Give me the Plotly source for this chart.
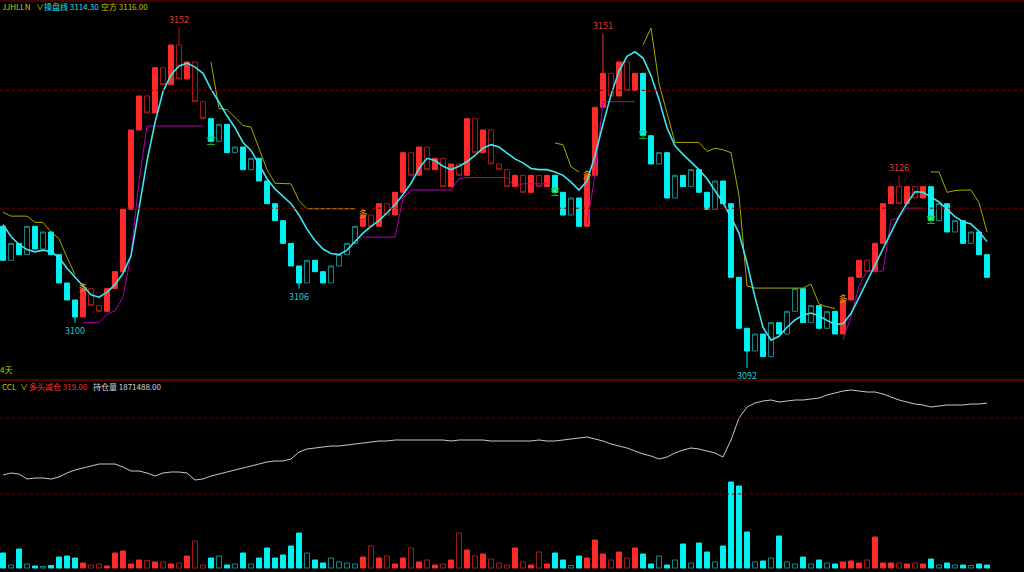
import plotly.graph_objects as go

W, H = 1024, 572

# ---------------- data ----------------
first_open = 3117.0
closes = [3111, 3114, 3112, 3117, 3113, 3116, 3112, 3107, 3104, 3101,
          3106, 3103, 3102, 3106, 3109, 3120, 3134, 3140, 3137, 3145,
          3142, 3149, 3143, 3146, 3139, 3136, 3132, 3135, 3130, 3131,
          3127, 3129, 3125, 3121, 3118, 3114, 3110, 3107, 3111, 3109,
          3107, 3110, 3112, 3114, 3117, 3119, 3117, 3121, 3119, 3123,
          3130, 3126, 3131, 3127, 3129, 3124, 3128, 3126, 3136, 3130,
          3134, 3128, 3127, 3124, 3126, 3123, 3126, 3124, 3126, 3123,
          3119, 3122, 3117, 3126, 3138, 3144, 3140, 3146, 3141, 3144,
          3133, 3128, 3130, 3122, 3126, 3124, 3127, 3123, 3120, 3125,
          3121, 3108, 3099, 3095, 3098, 3094, 3100, 3098, 3102, 3106,
          3100, 3103, 3099, 3102, 3098, 3104, 3108, 3111, 3109, 3114,
          3121, 3124, 3121, 3124, 3122, 3124, 3118, 3121, 3116, 3118,
          3114, 3116, 3112, 3108]

ma_line = [3117.3, 3115.2, 3113.8, 3112.9, 3112.5, 3112.8, 3112.5, 3111.5, 3109.6, 3108.0,
           3106.4, 3104.9, 3104.5, 3105.4, 3106.7, 3108.7, 3111.8, 3120.3, 3128.5, 3135.3,
           3140.8, 3143.7, 3145.3, 3145.8, 3145.1, 3144.0, 3141.2, 3138.9, 3136.5, 3134.4,
           3131.8, 3130.4, 3128.0, 3125.4, 3123.6, 3122.3, 3121.0, 3119.0, 3116.5, 3114.5,
           3113.0, 3112.2, 3112.0, 3112.8, 3114.3, 3115.8, 3117.0, 3118.0, 3119.4, 3120.8,
           3122.6, 3124.6, 3127.2, 3129.0, 3128.6, 3127.6, 3127.0, 3127.6, 3128.4, 3129.5,
           3130.8, 3131.4, 3131.0, 3130.0, 3128.9, 3128.2, 3127.2, 3127.0, 3127.0, 3126.6,
           3126.0, 3124.8, 3123.4, 3125.0, 3129.5, 3135.0, 3140.2, 3144.4, 3147.0, 3147.8,
           3146.7, 3143.6, 3139.4, 3134.4, 3131.2, 3129.7, 3128.4, 3127.0, 3125.4, 3123.4,
           3121.2, 3118.6, 3115.8, 3110.5, 3104.5, 3099.2, 3096.9, 3097.6, 3099.2, 3100.5,
           3101.3, 3101.7, 3101.2, 3100.4, 3099.7, 3099.8, 3101.6, 3104.4, 3107.3, 3110.4,
           3113.2, 3115.9, 3118.7, 3121.1, 3123.1, 3123.0, 3122.2, 3121.3, 3120.0, 3118.7,
           3117.8, 3117.4, 3116.1, 3114.3]

short_stop = [3119.5, 3118.8, 3118.8, 3118.8, 3117.7, 3117.7, 3116.0, 3114.8, 3111.5, 3108.5,
              None, None, None, None, None, None, None, None, None, None,
              None, None, None, None, None, None, 3146.0, 3137.8, 3137.6, 3136.2,
              3134.8, 3134.5, 3130.7, 3127.0, 3124.6, 3124.6, 3124.5, 3121.5, 3120.1, 3120.1,
              3120.1, 3120.1, 3120.1, 3120.1, 3120.1, None, None, None, None, None,
              None, None, None, None, None, None, None, None, None, None,
              None, None, None, None, None, None, None, None, None, 3131.7,
              3131.4, 3127.5, 3126.6, None, None, None, None, None, None, None,
              3149.0, 3152.0, 3142.2, 3137.2, 3131.8, 3131.8, 3131.8, 3131.8, 3130.2, 3130.8,
              3130.5, 3130.0, 3122.4, 3106.5, 3106.1, 3106.1, 3106.1, 3106.1, 3106.1, 3106.1,
              3106.1, 3106.8, 3103.3, 3102.8, 3102.5, None, None, None, None, None,
              None, None, None, None, None, None, 3126.6, 3126.6, 3123.0, 3123.3,
              3123.4, 3123.4, 3121.2, 3116.0]

long_stop = [None, None, None, None, None, None, None, None, None, None,
             3100.0, 3100.0, 3100.0, 3101.5, 3102.1, 3104.5, 3112.0, 3125.0, 3134.7, 3134.7,
             3134.7, 3134.7, 3134.7, 3134.7, 3134.7, 3134.7, None, None, None, None,
             None, None, None, None, None, None, None, None, None, None,
             None, None, None, None, None, 3115.1, 3115.1, 3115.1, 3115.1, 3115.1,
             3122.0, 3123.4, 3123.4, 3123.4, 3123.4, 3123.4, 3123.4, 3125.4, 3125.6, 3125.6,
             3125.6, 3125.6, 3125.6, 3125.6, 3124.0, 3124.5, 3124.5, 3124.5, 3124.5, None,
             None, None, None, 3117.5, 3126.0, 3139.0, 3139.0, 3139.0, 3139.0, 3139.0,
             None, None, None, None, None, None, None, None, None, None,
             None, None, None, None, None, None, None, None, None, None,
             None, None, None, None, None, 3097.0, 3101.0, 3106.5, 3109.1, 3109.1,
             3109.1, 3118.1, 3118.5, 3120.2, 3120.2, 3120.2, None, None, None, None,
             None, None, None, None]

volume = [3000, 600, 3800, 800, 400, 300, 500, 2200, 2400, 2000,
          1000, 600, 800, 400, 3000, 3400, 800, 1600, 1500, 1200,
          1200, 800, 1000, 2400, 5400, 600, 2000, 2400, 600, 800,
          3000, 800, 2000, 4000, 2000, 2600, 4400, 7000, 3000, 1600,
          1000, 2000, 1200, 1000, 800, 2200, 4400, 2000, 2400, 800,
          2000, 4000, 1200, 1600, 600, 800, 1600, 7000, 3600, 2400,
          2800, 1800, 1000, 600, 4000, 1200, 600, 3200, 800, 3000,
          1600, 500, 2400, 2000, 5600, 2800, 1600, 3200, 2000, 4000,
          2800, 800, 2400, 600, 1600, 4800, 1000, 5000, 3200, 1200,
          4400, 17200, 16400, 7200, 1200, 1400, 2000, 6400, 1200, 800,
          2200, 800, 1600, 1000, 800, 1200, 1400, 1000, 1600, 6200,
          1000, 1000, 1000, 800, 1000, 800, 1800, 600, 1000, 600,
          600, 500, 800, 600]

open_interest = [1835500, 1836500, 1836000, 1833500, 1834000, 1834000, 1833500, 1834500, 1836500, 1838000,
                 1839000, 1840000, 1841000, 1841000, 1841000, 1839500, 1837500, 1837500, 1836500, 1835000,
                 1836500, 1837000, 1837000, 1836500, 1833000, 1833500, 1835000, 1836000, 1837000, 1838000,
                 1839000, 1840000, 1841000, 1842000, 1842500, 1842500, 1843500, 1847000, 1848500, 1849000,
                 1849500, 1850000, 1850000, 1850500, 1851000, 1851500, 1852000, 1852500, 1852500, 1853000,
                 1853000, 1853000, 1853000, 1853000, 1853000, 1853000, 1852500, 1853000, 1853000, 1853000,
                 1853000, 1852500, 1852500, 1852500, 1852500, 1852500, 1852500, 1853000, 1852500, 1852500,
                 1853000, 1853500, 1854000, 1854500, 1853500, 1852500, 1851000, 1850000, 1849000, 1847500,
                 1846000, 1845000, 1843500, 1844500, 1846500, 1848000, 1849000, 1848500, 1847500, 1846500,
                 1844500, 1853000, 1864000, 1869500, 1871500, 1872500, 1873000, 1872000, 1872500, 1873000,
                 1873000, 1873500, 1874000, 1875500, 1876500, 1877500, 1878000, 1877500, 1877000, 1877000,
                 1876000, 1874500, 1873000, 1872000, 1871000, 1870500, 1869500, 1870000, 1870500, 1870500,
                 1870500, 1871000, 1871000, 1871488]

long_signals = [10, 45, 73, 105]
short_signals = [26, 69, 80, 116]
high_marks = {22: 3152, 75: 3151, 112: 3126}
low_marks = {9: 3100, 37: 3106, 93: 3092}
grid_prices = [3141.0, 3120.2]
grid_volumes = [30000, 14800]

header_name = "JJHLLN"
ma_name, ma_last = "操盘线", 3114.30
stop_name, stop_last = "空方", 3116.00
sub_name = "CCL"
sub_label1, sub_value1 = "多头减仓", 319.00
sub_label2, sub_value2 = "持仓量", 1871488.00
period_label = "4天"

# ---------------- derived ----------------
n = len(closes)
xs = list(range(n))
opens = [first_open] + closes[:-1]
highs = [max(o, c) for o, c in zip(opens, closes)]
lows = [min(o, c) for o, c in zip(opens, closes)]
for k, v in high_marks.items():
    highs[k] = v
for k, v in low_marks.items():
    lows[k] = v

events = sorted([(i, 1) for i in long_signals] + [(i, -1) for i in short_signals])
trend, state, ei = [], -1, 0
for i in range(n):
    while ei < len(events) and events[ei][0] == i:
        state = events[ei][1]
        ei += 1
    trend.append(state)

RED = '#FF2B2B'
DRED = '#A81818'
CYAN = '#00F2F2'
TEAL = '#138A8A'
CLEAR = 'rgba(0,0,0,0)'
YEL = '#C8C800'
FONT = 'Noto Sans CJK SC'

def pick(arr, want):
    return [a if t == want else None for a, t in zip(arr, trend)]

fig = go.Figure()

# Bull-zone candles
fig.add_trace(go.Candlestick(
    x=xs, open=pick(opens, 1), high=pick(highs, 1), low=pick(lows, 1), close=pick(closes, 1),
    increasing=dict(fillcolor=RED, line=dict(color=RED, width=1)),
    decreasing=dict(fillcolor=CLEAR, line=dict(color=DRED, width=1)),
    whiskerwidth=0, showlegend=False, hoverinfo='skip', xaxis='x', yaxis='y'))
# Bear-zone candles
fig.add_trace(go.Candlestick(
    x=xs, open=pick(opens, -1), high=pick(highs, -1), low=pick(lows, -1), close=pick(closes, -1),
    increasing=dict(fillcolor=CLEAR, line=dict(color=TEAL, width=1)),
    decreasing=dict(fillcolor=CYAN, line=dict(color=CYAN, width=1)),
    whiskerwidth=0, showlegend=False, hoverinfo='skip', xaxis='x', yaxis='y'))

fig.add_trace(go.Scatter(x=xs, y=short_stop, mode='lines', line=dict(color='#A8A800', width=1),
                         connectgaps=False, showlegend=False, hoverinfo='skip'))
fig.add_trace(go.Scatter(x=xs, y=long_stop, mode='lines', line=dict(color='#B000B0', width=1),
                         connectgaps=False, showlegend=False, hoverinfo='skip'))
fig.add_trace(go.Scatter(x=xs, y=ma_line, mode='lines', line=dict(color='#3EE6F0', width=1.6),
                         showlegend=False, hoverinfo='skip'))

# signal glyphs
fig.add_trace(go.Scatter(x=long_signals, y=[closes[i] for i in long_signals], mode='text',
                         text=['多'] * len(long_signals),
                         textfont=dict(color='#D8A000', size=9, family=FONT),
                         showlegend=False, hoverinfo='skip'))
fig.add_trace(go.Scatter(x=short_signals, y=[closes[i] for i in short_signals], mode='text',
                         text=['空'] * len(short_signals),
                         textfont=dict(color='#22D022', size=9, family=FONT),
                         showlegend=False, hoverinfo='skip'))

# volume
vfill, vline = [], []
for o, c, t in zip(opens, closes, trend):
    up = c >= o
    if t == 1:
        vfill.append(RED if up else CLEAR)
        vline.append(RED if up else DRED)
    else:
        vfill.append(CYAN if not up else CLEAR)
        vline.append(CYAN if not up else TEAL)
fig.add_trace(go.Bar(x=xs, y=volume, width=0.62, marker=dict(color=vfill, line=dict(color=vline, width=1)),
                     showlegend=False, hoverinfo='skip', xaxis='x2', yaxis='y2'))
fig.add_trace(go.Scatter(x=xs, y=open_interest, mode='lines', line=dict(color='#C8C8C8', width=1),
                         showlegend=False, hoverinfo='skip', xaxis='x2', yaxis='y3'))

split = 1 - 380 / H
fig.update_layout(
    width=W, height=H, margin=dict(l=0, r=0, t=0, b=0),
    paper_bgcolor='#000000', plot_bgcolor='#000000',
    xaxis=dict(domain=[0, 1], range=[-0.375, 127.625], visible=False, anchor='y',
               rangeslider=dict(visible=False), fixedrange=True),
    yaxis=dict(domain=[split, 1], range=[3089.88, 3156.94], visible=False, fixedrange=True),
    xaxis2=dict(domain=[0, 1], range=[-0.375, 127.625], visible=False, anchor='y2', matches='x'),
    yaxis2=dict(domain=[0, split], range=[-800, 37600], visible=False, anchor='x2'),
    yaxis3=dict(overlaying='y2', range=[1787000, 1883000], visible=False, anchor='x2'),
    bargap=0.3, boxgap=0.12, showlegend=False,
)

shapes = []
for gp in grid_prices:
    shapes.append(dict(type='line', xref='paper', yref='y', x0=0, x1=1, y0=gp, y1=gp,
                       line=dict(color='#7A0000', width=1, dash='dot')))
for gv in grid_volumes:
    shapes.append(dict(type='line', xref='paper', yref='y2', x0=0, x1=1, y0=gv, y1=gv,
                       line=dict(color='#7A0000', width=1, dash='dot')))
shapes.append(dict(type='line', xref='paper', yref='paper', x0=0, x1=1, y0=split, y1=split,
                   line=dict(color='#B00000', width=1)))
shapes.append(dict(type='line', xref='paper', yref='paper', x0=0, x1=1, y0=1 - 1 / H, y1=1 - 1 / H,
                   line=dict(color='#8A0000', width=1)))
fig.update_layout(shapes=shapes)

def txt(px, py, s, color, size=8):
    return dict(x=px / W, y=1 - py / H, xref='paper', yref='paper', text=s, showarrow=False,
                xanchor='left', yanchor='middle', borderpad=0,
                font=dict(color=color, size=size, family=FONT))

ann = [
    txt(1, 6, header_name, YEL, 8),
    txt(35, 6, '∨', YEL),
    txt(43, 6, f'{ma_name} {ma_last:.2f}', '#1EE0E6'),
    txt(100, 6, f'{stop_name} {stop_last:.2f}', YEL),
    txt(-1, 369, period_label, YEL),
    txt(1, 386, sub_name, YEL, 8),
    txt(19, 386, '∨', YEL),
    txt(28, 386, f'{sub_label1} {sub_value1:.2f}', '#FF3030'),
    txt(92, 386, f'{sub_label2} {sub_value2:.2f}', '#D8D8D8'),
]
for k, v in high_marks.items():
    ann.append(dict(x=k, y=v, xref='x', yref='y', text=str(v), showarrow=False, yshift=8,
                    font=dict(color='#E03838', size=9, family=FONT)))
for k, v in low_marks.items():
    ann.append(dict(x=k, y=v, xref='x', yref='y', text=str(v), showarrow=False, yshift=-8,
                    font=dict(color='#20C8C8', size=9, family=FONT)))
fig.update_layout(annotations=ann)

fig.write_html("out.html", config={'displayModeBar': False},
               post_script="document.body.style.margin='0';document.body.style.background='#000';")
